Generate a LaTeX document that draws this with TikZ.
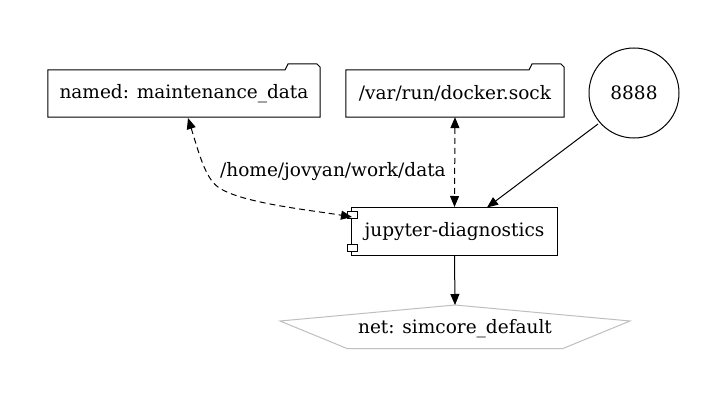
\documentclass[tikz,border=0pt]{standalone}
\usepackage{fontspec}
\setmainfont{DejaVu Serif}
\usetikzlibrary{arrows.meta,calc}
\begin{document}
\begin{tikzpicture}[x=1pt,y=-1pt,
  lbl/.style={font=\fontsize{18.5}{20}\selectfont, inner sep=0pt},
  outl/.style={line width=1pt, black},
  tip/.style={-{Triangle[length=11pt,width=9pt]}},
  bitip/.style={{Triangle[length=11pt,width=9pt]}-{Triangle[length=11pt,width=9pt]}},
]
\useasboundingbox[fill=white] (0,0) rectangle (728,401);
% folders
\node[lbl, minimum width=272pt, minimum height=47pt] (named) at (184,93.5) {named: maintenance\_data};
\draw[outl] (named.south west) -- (named.north west) -- (285,70) -- (288,64) -- (317,64) -- (320,67) -- (named.south east) -- cycle;
\node[lbl, minimum width=218pt, minimum height=47pt] (docker) at (455,93.5) {/var/run/docker.sock};
\draw[outl] (docker.south west) -- (docker.north west) -- (529,70) -- (532,64) -- (561,64) -- (564,67) -- (docker.south east) -- cycle;
% port circle
\node[lbl, circle, draw, outl, minimum size=90pt] (port) at (634,93) {8888};
% component
\node[lbl, draw, outl, minimum width=206pt, minimum height=48pt] (jup) at (454.5,231.5) {jupyter-diagnostics};
\draw[outl, fill=white] (347.5,211.5) rectangle (357,218);
\draw[outl, fill=white] (347.5,244.5) rectangle (357,251);
% network pentagon
\coordinate (ntop) at (455,305);
\node[lbl] (net) at (455,328.5) {net: simcore\_default};
\coordinate (nw) at (280,321);
\coordinate (ne) at (630,321);
\draw[line width=1pt, color=black!25] (ntop) -- (nw) -- (347,348.5) -- (563,348.5) -- (ne) -- cycle;
% edges
\coordinate (a1) at (188,118);
\coordinate (a2) at (352,217);
\draw[outl, dash pattern=on 6pt off 4pt, bitip] (a1) .. controls (198,150) and (205,178) .. (218,187) .. controls (240,203) and (310,210) .. (a2);
\node[lbl, anchor=west] (vol) at (220,172) {/home/jovyan/work/data};
\draw[outl, dash pattern=on 6pt off 4pt, bitip] (docker.south) -- (jup.north);
\coordinate (p1) at (598,124);
\coordinate (p2) at (487,207.5);
\draw[outl, tip] (p1) -- (p2);
\draw[outl, tip] (jup.south) -- (ntop);
\end{tikzpicture}
\end{document}
